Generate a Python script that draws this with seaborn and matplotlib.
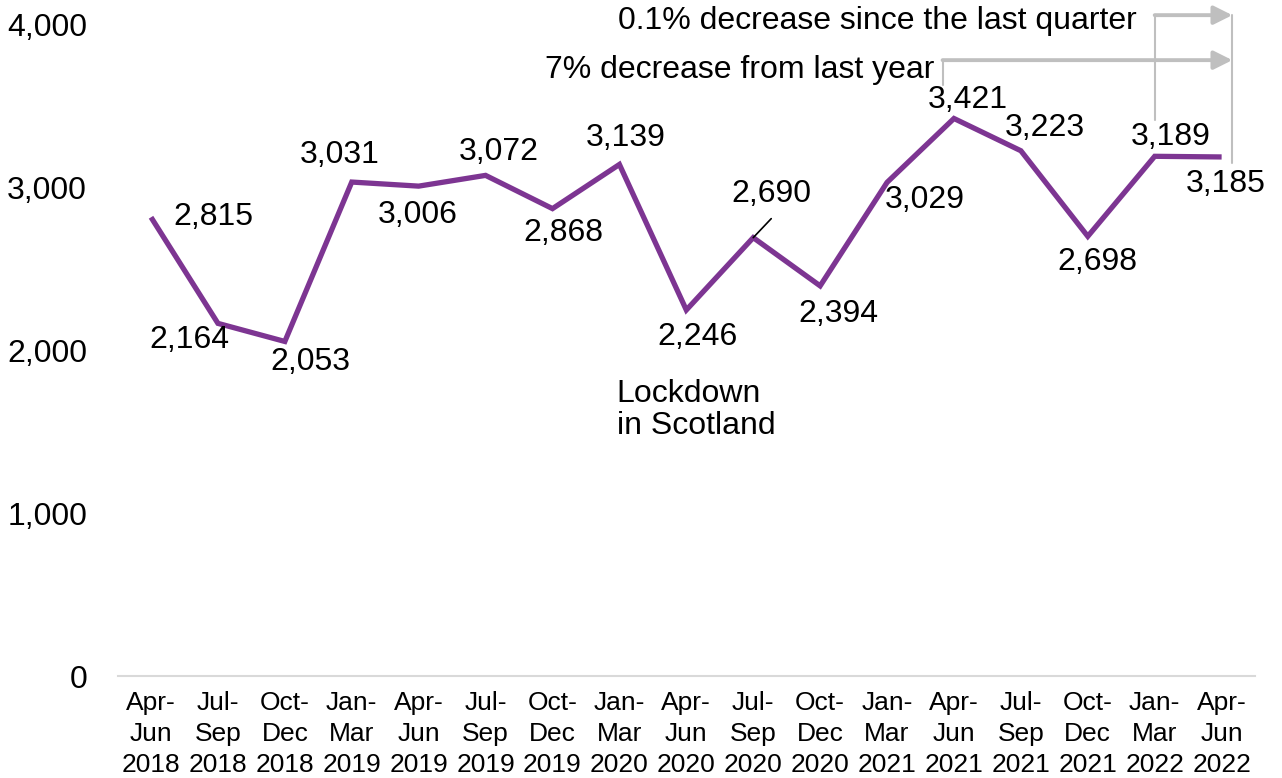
import matplotlib
matplotlib.use("Agg")
import matplotlib.pyplot as plt
from matplotlib.ticker import FuncFormatter
from matplotlib.patches import FancyArrowPatch
import seaborn as sns
import pandas as pd

# Quarterly counts
quarters = ["Apr-\nJun\n2018", "Jul-\nSep\n2018", "Oct-\nDec\n2018", "Jan-\nMar\n2019",
            "Apr-\nJun\n2019", "Jul-\nSep\n2019", "Oct-\nDec\n2019", "Jan-\nMar\n2020",
            "Apr-\nJun\n2020", "Jul-\nSep\n2020", "Oct-\nDec\n2020", "Jan-\nMar\n2021",
            "Apr-\nJun\n2021", "Jul-\nSep\n2021", "Oct-\nDec\n2021", "Jan-\nMar\n2022",
            "Apr-\nJun\n2022"]
values = [2815, 2164, 2053, 3031, 3006, 3072, 2868, 3139, 2246, 2690,
          2394, 3029, 3421, 3223, 2698, 3189, 3185]
y_ticks = [0, 1000, 2000, 3000, 4000]

# Label offsets in pixels relative to each point
label_offsets = [(62, 0), (-28, -17), (26, -21), (-12, 27), (-1, -29), (13, 23),
                 (11, -24), (6, 26), (11, -27), (18, 44), (18, -28), (38, -18),
                 (14, 18), (24, 23), (10, -26), (16, 19), (4, -27)]

sns.set_theme(style="white")
plt.rcParams["font.family"] = ["Liberation Sans", "DejaVu Sans"]
plt.rcParams["text.color"] = "black"

LINE = "#7D3592"
GREY = "#BFBFBF"
FS = 23
FS_X = 19

df = pd.DataFrame({"pos": range(len(values)), "value": values})

fig = plt.figure(figsize=(12.82, 7.78), dpi=100)
ax = fig.add_axes([0.0917, 0.131, 0.8873, 0.838])

sns.lineplot(data=df, x="pos", y="value", ax=ax, color=LINE, linewidth=3.8,
             solid_capstyle="butt", solid_joinstyle="miter")

ax.set_xlim(-0.5, len(values) - 0.5)
ax.set_ylim(0, 4000)
ax.set_yticks(y_ticks)
ax.yaxis.set_major_formatter(FuncFormatter(lambda v, p: f"{int(v):,}"))
ax.set_xticks(range(len(quarters)))
ax.set_xticklabels(quarters, linespacing=1.36)
ax.tick_params(axis="y", labelsize=FS, colors="black", length=0, pad=22)
ax.tick_params(axis="x", labelsize=FS_X, colors="black", length=0, pad=11)
ax.set_xlabel("")
ax.set_ylabel("")
for s in ["top", "right", "left"]:
    ax.spines[s].set_visible(False)
ax.spines["bottom"].set_color("#D9D9D9")
ax.spines["bottom"].set_linewidth(1.5)

# Value labels
for i, (v, (dx, dy)) in enumerate(zip(values, label_offsets)):
    ax.annotate(f"{v:,}", (i, v), xytext=(dx, dy), textcoords="offset pixels",
                ha="center", va="center", fontsize=FS, color="black")

# Leader line for the Jul-Sep 2020 label
ax.annotate("", (9, values[9]), xytext=(18, 19), textcoords="offset pixels",
            arrowprops=dict(arrowstyle="-", color="black", lw=1.2, shrinkA=0, shrinkB=0))

ax.text(6.96, 1632, "Lockdown\nin Scotland", ha="left", va="center",
        fontsize=FS, linespacing=1.1, color="black")

# Change callouts
x_end = 16.16
y_top = 4055
ax.plot([15, 15], [3411, y_top], color=GREY, lw=1.5, clip_on=False)
ax.plot([x_end, x_end], [y_top, 3147], color=GREY, lw=1.5, clip_on=False)
ax.add_patch(FancyArrowPatch((15, y_top), (x_end, y_top), arrowstyle="-|>",
                             mutation_scale=28, color=GREY, lw=2.8,
                             shrinkA=0, shrinkB=0, clip_on=False))
ax.plot([11.83, 11.83], [3626, 3779], color=GREY, lw=1.5, clip_on=False)
ax.add_patch(FancyArrowPatch((11.83, 3779), (x_end, 3779), arrowstyle="-|>",
                             mutation_scale=28, color=GREY, lw=2.8,
                             shrinkA=0, shrinkB=0, clip_on=False))
ax.text(14.73, 4018, "0.1% decrease since the last quarter", ha="right",
        va="center", fontsize=FS, color="black")
ax.text(11.71, 3718, "7% decrease from last year", ha="right",
        va="center", fontsize=FS, color="black")

fig.savefig("out.png", dpi=100)
